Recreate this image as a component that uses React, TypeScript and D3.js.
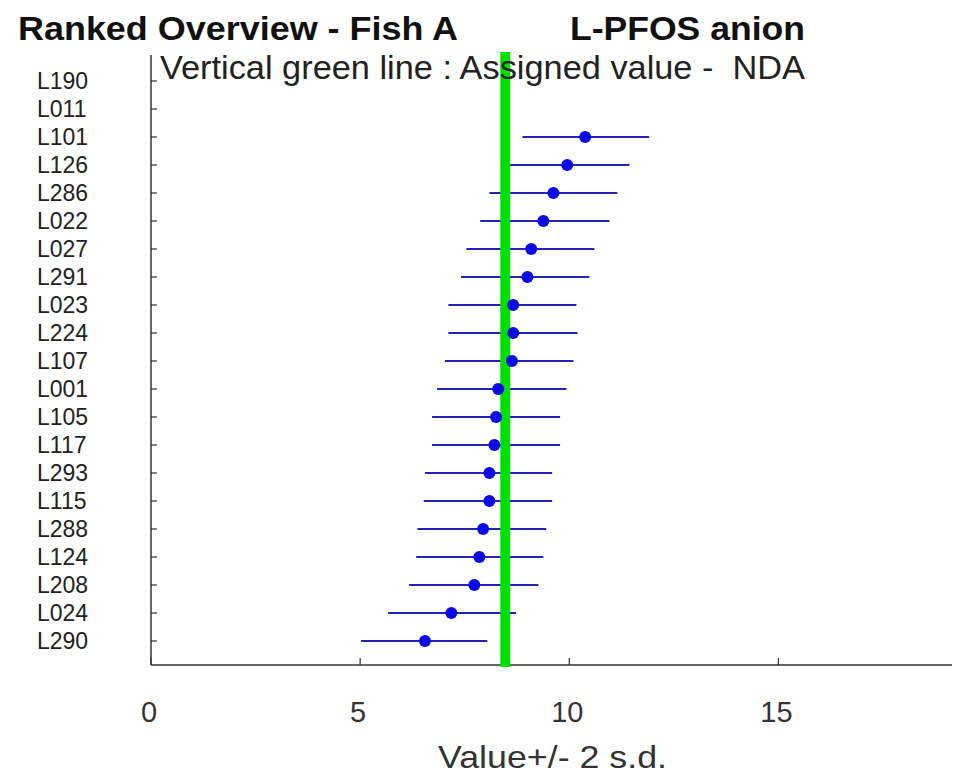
import * as d3 from "d3"
import { useEffect, useRef } from "react"

const labs = [
  "L190", "L011", "L101", "L126", "L286", "L022", "L027", "L291", "L023", "L224", "L107",
  "L001", "L105", "L117", "L293", "L115", "L288", "L124", "L208", "L024", "L290",
]
// null = no result reported
const values = [
  null, null, 10.38, 9.95, 9.62, 9.38, 9.09, 9.0, 8.66, 8.66, 8.63,
  8.3, 8.25, 8.21, 8.09, 8.09, 7.94, 7.85, 7.73, 7.18, 6.55,
]
const lows = [
  null, null, 8.88, 8.46, 8.09, 7.87, 7.54, 7.41, 7.11, 7.11, 7.03,
  6.84, 6.72, 6.72, 6.55, 6.52, 6.37, 6.34, 6.17, 5.67, 5.02,
]
const highs = [
  null, null, 11.91, 11.44, 11.15, 10.96, 10.6, 10.48, 10.17, 10.2, 10.1,
  9.93, 9.78, 9.78, 9.59, 9.59, 9.45, 9.38, 9.26, 8.73, 8.04,
]
const assigned = 8.47
const xTicks = [0, 5, 10, 15]

const W = 954
const H = 775
const FONT = "'Liberation Sans', Arial, sans-serif"

const App = () => {
  const svgRef = useRef<SVGSVGElement>(null)

  useEffect(() => {
    if (!svgRef.current) return
    const svg = d3.select(svgRef.current)
    svg.selectAll("*").remove()

    const x = d3.scaleLinear().domain([0, 19.15]).range([151, 952])
    const y = d3.scalePoint<string>().domain(labs).range([81, 641])
    const axisY = 665
    const axisTop = 55

    const rows = labs.map((l, i) => ({ l, v: values[i], lo: lows[i], hi: highs[i] }))

    // titles
    svg.append("text").attr("x", 18).attr("y", 40)
      .attr("font-family", FONT).attr("font-weight", "bold").attr("font-size", 33)
      .attr("textLength", 440).attr("lengthAdjust", "spacingAndGlyphs")
      .attr("fill", "#111").text("Ranked Overview - Fish A")
    svg.append("text").attr("x", 570).attr("y", 40)
      .attr("font-family", FONT).attr("font-weight", "bold").attr("font-size", 33)
      .attr("textLength", 235).attr("lengthAdjust", "spacingAndGlyphs")
      .attr("fill", "#111").text("L-PFOS anion")

    // y axis
    svg.append("line").attr("x1", x(0)).attr("x2", x(0)).attr("y1", axisTop).attr("y2", axisY)
      .attr("stroke", "#333").attr("stroke-width", 1.5)
    svg.selectAll(".ytick").data(labs).join("line").attr("class", "ytick")
      .attr("x1", x(0)).attr("x2", x(0) + 6)
      .attr("y1", (d) => y(d)!).attr("y2", (d) => y(d)!)
      .attr("stroke", "#333").attr("stroke-width", 1.2)
    svg.selectAll(".ylab").data(labs).join("text").attr("class", "ylab")
      .attr("x", 37).attr("y", (d) => y(d)!).attr("dy", "0.36em")
      .attr("font-family", FONT).attr("font-size", 23).attr("fill", "#222")
      .text((d) => d)

    // x axis
    svg.append("line").attr("x1", x(0)).attr("x2", 952).attr("y1", axisY).attr("y2", axisY)
      .attr("stroke", "#333").attr("stroke-width", 1.5)
    svg.selectAll(".xtick").data(xTicks).join("line").attr("class", "xtick")
      .attr("x1", (d) => x(d)).attr("x2", (d) => x(d))
      .attr("y1", axisY).attr("y2", axisY - 7)
      .attr("stroke", "#333").attr("stroke-width", 1.2)
    svg.selectAll(".xlab").data(xTicks).join("text").attr("class", "xlab")
      .attr("x", (d) => x(d) - 2).attr("y", 722).attr("text-anchor", "middle")
      .attr("font-family", FONT).attr("font-size", 29).attr("fill", "#333")
      .text((d) => d)
    svg.append("text").attr("x", 438).attr("y", 768)
      .attr("font-family", FONT).attr("font-size", 32).attr("fill", "#333")
      .attr("textLength", 229).attr("lengthAdjust", "spacingAndGlyphs")
      .text("Value+/- 2 s.d.")

    // error bars
    const data = rows.filter((r) => r.v != null)
    svg.selectAll(".bar").data(data).join("line").attr("class", "bar")
      .attr("x1", (d) => x(d.lo!)).attr("x2", (d) => x(d.hi!))
      .attr("y1", (d) => y(d.l)!).attr("y2", (d) => y(d.l)!)
      .attr("stroke", "#2323b4").attr("stroke-width", 1.8)

    // assigned value
    svg.append("line").attr("x1", x(assigned)).attr("x2", x(assigned))
      .attr("y1", 52).attr("y2", axisY + 2)
      .attr("stroke", "#00e000").attr("stroke-width", 10)

    svg.selectAll(".dot").data(data).join("circle").attr("class", "dot")
      .attr("cx", (d) => x(d.v!)).attr("cy", (d) => y(d.l)!).attr("r", 6)
      .attr("fill", "#0a0ae6")

    // subtitle
    svg.append("text").attr("x", 160).attr("y", 79)
      .attr("font-family", FONT).attr("font-size", 33).attr("fill", "#222")
      .attr("textLength", 645).attr("lengthAdjust", "spacingAndGlyphs")
      .style("white-space", "pre")
      .text("Vertical green line : Assigned value -  NDA")
  }, [])

  return (
    <svg ref={svgRef} width={W} height={H}
      style={{ position: "absolute", left: 0, top: 0, background: "#fff", display: "block" }} />
  )
}

export default App
